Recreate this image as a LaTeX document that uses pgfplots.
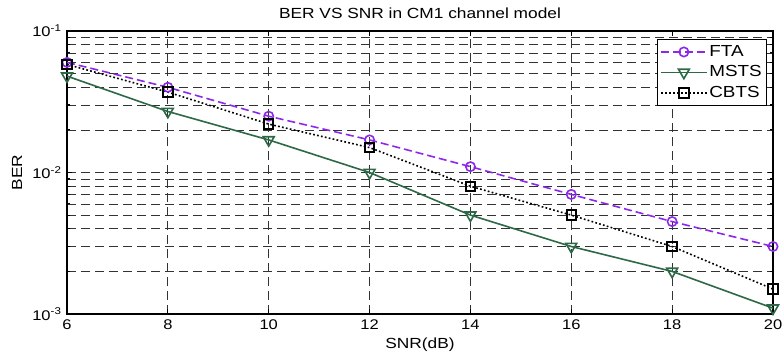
\documentclass[border=0pt]{standalone}
\usepackage{pgfplots}
\pgfplotsset{compat=1.18}
\usepackage{fontspec}
\setmainfont[FakeStretch=1.18]{Liberation Sans}
\definecolor{ftacol}{RGB}{140,40,235}
\definecolor{mstscol}{RGB}{45,105,70}
\definecolor{gridcol}{RGB}{50,50,50}
\begin{document}
\begin{tikzpicture}[x=1pt,y=1pt]
\path[use as bounding box] (-50.25pt,-33pt) rectangle (536.25pt,235.5pt);
\begin{axis}[
  at={(0pt,0pt)}, anchor=south west,
  scale only axis, width=529.5pt, height=212.25pt,
  ymode=log, xmin=6, xmax=20, ymin=1e-3, ymax=1e-1,
  xtick={6,8,...,20},
  xticklabels={6,8,10,12,14,16,18,20},
  ytick={0.001,0.01,0.1},
  yticklabels={10\textsuperscript{-3},10\textsuperscript{-2},10\textsuperscript{-1}},
  minor ytick={0.002,0.003,0.004,0.005,0.006,0.007,0.008,0.009,0.02,0.03,0.04,0.05,0.06,0.07,0.08,0.09},
  tick align=inside, tickpos=both,
  major tick length=4pt, minor tick length=2.5pt,
  grid=both,
  major grid style={gridcol, dash pattern=on 7pt off 3.5pt, line width=0.6pt},
  minor grid style={gridcol, dash pattern=on 7pt off 3.5pt, line width=0.6pt},
  axis line style={black, line width=1pt},
  every tick/.style={black, line width=0.8pt},
  tick label style={font=\fontsize{10.5}{12}\selectfont},
  yticklabel style={xshift=-0.5pt},
  xticklabel style={yshift=-0.5pt},
  title={BER VS SNR in CM1 channel model},
  title style={font=\fontsize{11}{13}\selectfont, at={(0.5,1)}, anchor=base, yshift=3.75pt, inner sep=0pt},
  xlabel={SNR(dB)},
  xlabel style={font=\fontsize{11}{13}\selectfont, at={(0.5,0)}, anchor=base, yshift=-26pt, inner sep=0pt},
  ylabel={BER},
  ylabel style={font=\fontsize{11}{13}\selectfont, at={(0,0.5)}, anchor=center, yshift=37.5pt, inner sep=0pt},
  legend style={at={(0.9915,0.972)}, anchor=north east, draw=black, line width=0.8pt,
    font=\fontsize{12}{13}\selectfont, row sep=2.5pt, inner xsep=2pt, inner ysep=3pt, fill=white,
    nodes={inner sep=1.5pt}},
  legend cell align=left,
  legend image code/.code={\draw[mark repeat=2,mark phase=2] plot coordinates {(0pt,0pt) (17pt,0pt) (34pt,0pt)};},
]
\addplot[ftacol, line width=1.2pt, dash pattern=on 6pt off 3pt, mark=o, mark size=3.5pt, mark options={solid, line width=1.2pt}]
  coordinates {(6,0.060) (8,0.040) (10,0.025) (12,0.017) (14,0.011) (16,0.007) (18,0.0045) (20,0.003)};
\addlegendentry{FTA}
\addplot[mstscol, line width=1.2pt, mark=triangle, mark size=4.7pt, mark options={solid, rotate=180, line width=1.2pt}]
  coordinates {(6,0.048) (8,0.027) (10,0.017) (12,0.010) (14,0.005) (16,0.003) (18,0.002) (20,0.0011)};
\addlegendentry{MSTS}
\addplot[black, line width=1.2pt, dash pattern=on 1.3pt off 1.7pt, mark=square, mark size=3.5pt, mark options={solid, line width=1.5pt}]
  coordinates {(6,0.058) (8,0.037) (10,0.022) (12,0.015) (14,0.008) (16,0.005) (18,0.003) (20,0.0015)};
\addlegendentry{CBTS}
\end{axis}
\end{tikzpicture}
\end{document}
